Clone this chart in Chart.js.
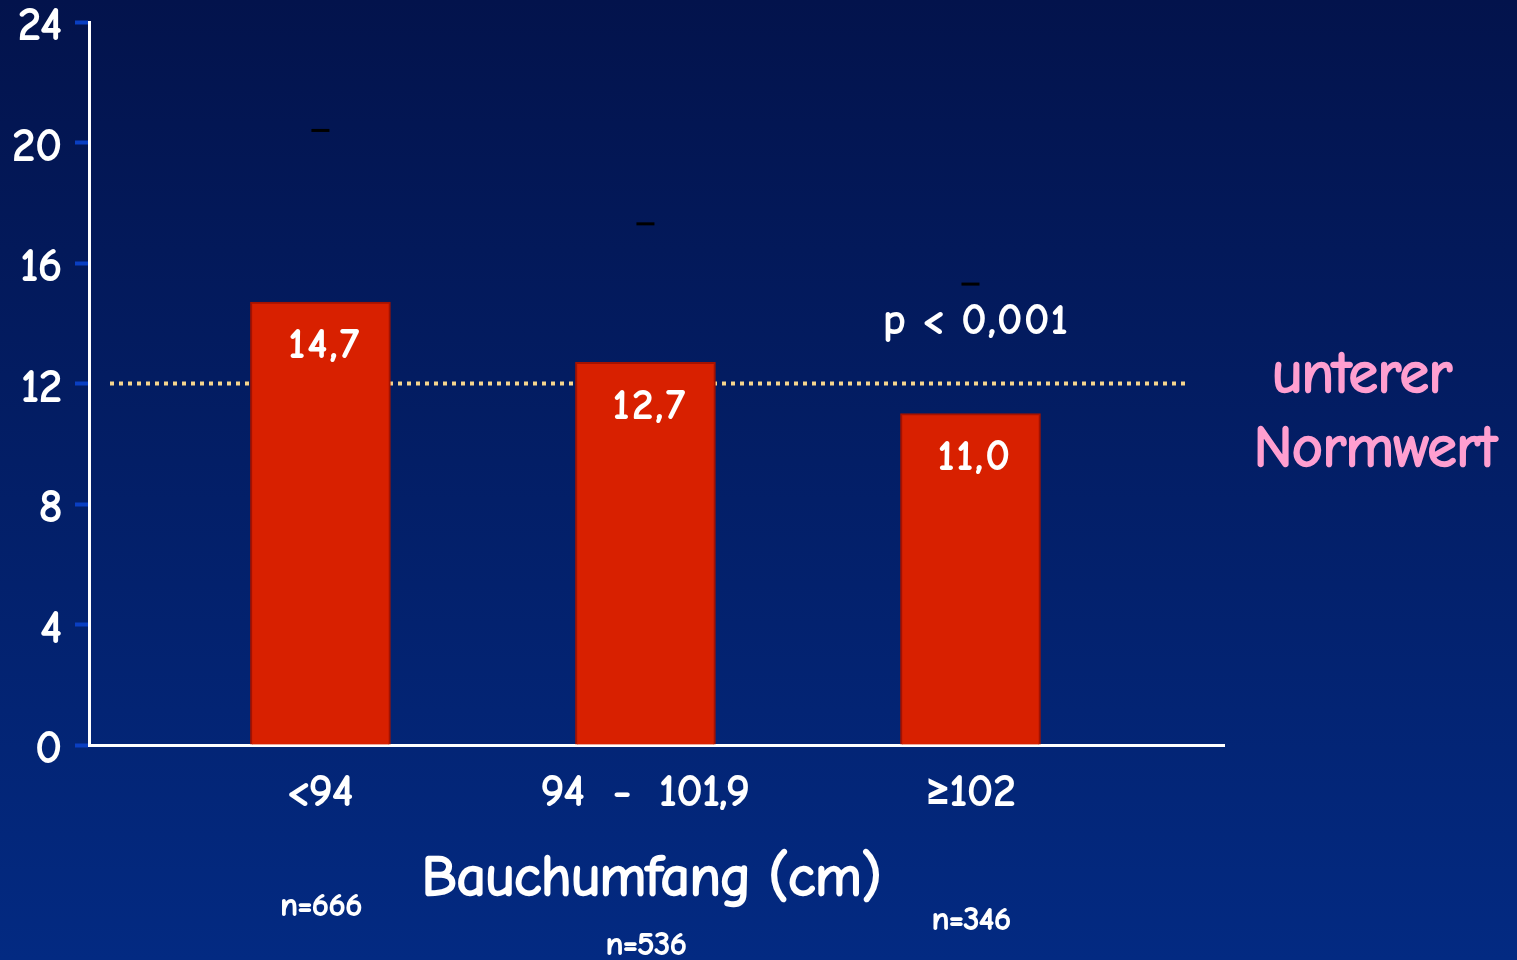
<!DOCTYPE html>
<html>
<head>
<meta charset="utf-8">
<script src="https://cdn.jsdelivr.net/npm/chart.js@4/dist/chart.umd.min.js"></script>
<style>
  html, body { margin: 0; padding: 0; background: #031a5e; }
  canvas { display: block; }
</style>
</head>
<body>
<canvas id="bauchChart" width="1517" height="960"></canvas>
<script>
// waist circumference groups and mean values
const categories = ['<94', '94  -  101,9', '\u2265102'];
const meanValues = [14.7, 12.7, 11.0];
const upperError = [20.4, 17.3, 15.3];
const sampleSizes = [666, 536, 346];
const normValue = 12;
const yTicks = [0, 4, 8, 12, 16, 20, 24];
const pText = 'p < 0,001';
const xTitle = 'Bauchumfang (cm)';

const FONT = "'Comic Sans MS', 'Comic Neue', Lato, sans-serif";
const fmt = v => v.toFixed(1).replace('.', ',');

// filled + stroked text, the font has no heavy weight of its own
function boldText(ctx, text, x, y, stroke) {
    ctx.lineWidth = stroke;
    ctx.lineJoin = 'round';
    ctx.strokeStyle = ctx.fillStyle;
    ctx.strokeText(text, x, y);
    ctx.fillText(text, x, y);
}

const backgroundPlugin = {
    id: 'background',
    beforeDraw(chart) {
        const ctx = chart.ctx;
        const g = ctx.createLinearGradient(0, 0, 0, chart.height);
        g.addColorStop(0, '#03134c');
        g.addColorStop(1, '#032a82');
        ctx.save();
        ctx.fillStyle = g;
        ctx.fillRect(0, 0, chart.width, chart.height);
        ctx.restore();
    }
};

// dotted line for the lower reference value, behind the bars
const normLinePlugin = {
    id: 'normLine',
    beforeDatasetsDraw(chart) {
        const ctx = chart.ctx;
        const area = chart.chartArea;
        const y = chart.scales.y.getPixelForValue(normValue);
        ctx.save();
        ctx.strokeStyle = '#f6d58e';
        ctx.lineWidth = 4;
        ctx.setLineDash([4, 5]);
        ctx.beginPath();
        ctx.moveTo(area.left + 21, y);
        ctx.lineTo(area.right - 34, y);
        ctx.stroke();
        ctx.restore();
    }
};

const textPlugin = {
    id: 'texts',
    afterDatasetsDraw(chart) {
        const ctx = chart.ctx;
        const bars = chart.getDatasetMeta(0).data;
        const yScale = chart.scales.y;
        const area = chart.chartArea;
        ctx.save();
        ctx.textAlign = 'center';
        ctx.textBaseline = 'middle';
        ctx.fillStyle = '#ffffff';

        // values inside the bars
        ctx.font = '40px ' + FONT;
        ctx.letterSpacing = '3px';
        bars.forEach((bar, i) => {
            boldText(ctx, fmt(meanValues[i]), bar.x + 5, bar.y + 44, 2);
        });

        // significance
        ctx.font = '41px ' + FONT;
        ctx.letterSpacing = '2px';
        boldText(ctx, pText, bars[2].x + 6, yScale.getPixelForValue(14.05), 2);
        ctx.letterSpacing = '0px';

        // axis title
        ctx.font = '56px ' + FONT;
        boldText(ctx, xTitle, (area.left + area.right) / 2 - 5, area.bottom + 134, 2.5);

        // group sizes under the axis
        const nOffsets = [161, 200, 175];
        ctx.font = '31px ' + FONT;
        bars.forEach((bar, i) => {
            boldText(ctx, 'n=' + sampleSizes[i], bar.x + 1, area.bottom + nOffsets[i], 1.8);
        });

        // reference label
        ctx.fillStyle = '#ff9fd0';
        ctx.font = '58px ' + FONT;
        const ny = yScale.getPixelForValue(normValue);
        boldText(ctx, 'unterer', 1362, ny - 8, 2.5);
        boldText(ctx, 'Normwert', 1375, ny + 66, 2.5);
        ctx.restore();
    }
};

new Chart(document.getElementById('bauchChart'), {
    type: 'bar',
    data: {
        datasets: [{
            data: meanValues.map((v, i) => ({x: i, y: v})),
            backgroundColor: '#d82000',
            borderColor: '#a51200',
            borderWidth: 2,
            barThickness: 140,
            order: 2
        }, {
            type: 'scatter',
            data: upperError.map((v, i) => ({x: i, y: v})),
            pointStyle: 'line',
            pointRadius: 9,
            borderColor: '#000000',
            borderWidth: 3,
            order: 1
        }]
    },
    options: {
        responsive: false,
        animation: false,
        layout: {
            padding: {top: 22, right: 293, left: 0, bottom: 0}
        },
        scales: {
            x: {
                type: 'linear',
                offset: false,
                min: -0.712,
                max: 2.78,
                afterFit: s => { s.height = 215; s.paddingLeft = 0; s.paddingRight = 0; },
                afterBuildTicks: s => { s.ticks = categories.map((_, i) => ({value: i})); },
                grid: {display: false},
                border: {color: '#ffffff', width: 3},
                ticks: {
                    color: '#ffffff',
                    padding: 14,
                    textStrokeColor: '#ffffff',
                    textStrokeWidth: 2,
                    font: {family: FONT, size: 43},
                    callback: v => categories[v]
                }
            },
            y: {
                min: 0,
                max: 24,
                afterFit: s => { s.width = 89; s.paddingTop = 0; s.paddingBottom = 0; },
                afterBuildTicks: s => { s.ticks = yTicks.map(v => ({value: v})); },
                grid: {
                    drawOnChartArea: false,
                    tickLength: 14,
                    tickWidth: 4,
                    tickColor: '#0a3fc2'
                },
                border: {color: '#ffffff', width: 3},
                ticks: {
                    color: '#ffffff',
                    padding: 13,
                    labelOffset: 5,
                    textStrokeColor: '#ffffff',
                    textStrokeWidth: 2,
                    font: {family: FONT, size: 44}
                }
            }
        },
        plugins: {
            legend: {display: false},
            tooltip: {enabled: false}
        }
    },
    plugins: [backgroundPlugin, normLinePlugin, textPlugin]
});
</script>
</body>
</html>
